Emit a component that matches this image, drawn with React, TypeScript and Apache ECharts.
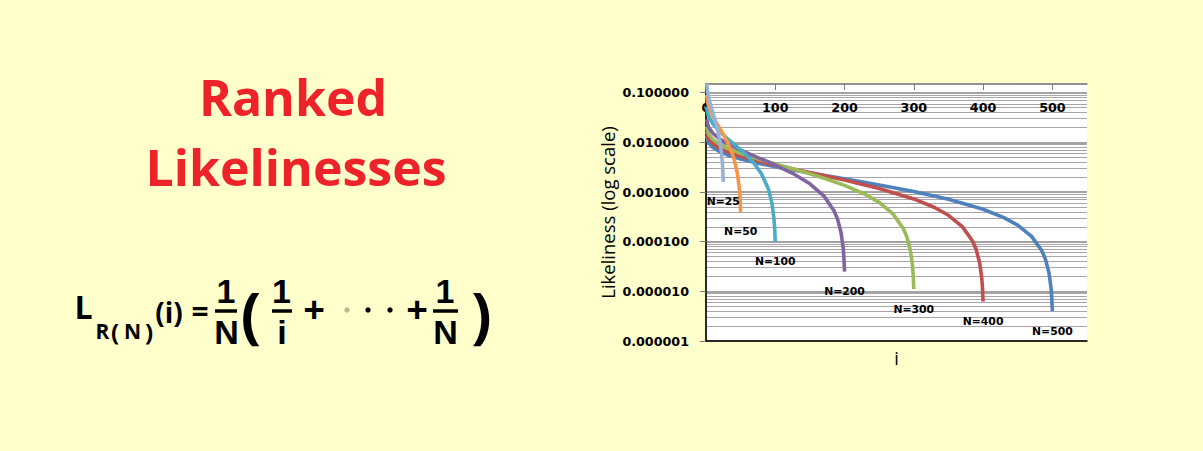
import React, { useEffect, useRef } from 'react';
import * as echarts from 'echarts';

// ---- data ----
const seriesNames = ['N=500', 'N=400', 'N=300', 'N=200', 'N=100', 'N=50', 'N=25'];
const seriesColors = ['#4F81BD', '#C0504D', '#9BBB59', '#8064A2', '#4BACC6', '#F79646', '#95B3D7'];

const xN25 = [1, 2, 3, 5, 8, 12, 16, 20, 22, 23, 24, 25];
const yN25 = [0.1526, 0.1126, 0.0926, 0.0693, 0.0489, 0.03184, 0.01991, 0.01073, 0.006824, 0.005006, 0.003267, 0.0016];

const xN50 = [1, 2, 3, 5, 10, 15, 20, 25, 30, 35, 40, 45, 48, 49, 50];
const yN50 = [0.08998, 0.06998, 0.05998, 0.04832, 0.0334, 0.02495, 0.01903, 0.01446, 0.01075, 0.00762, 0.004913, 0.00253, 0.001225, 0.000808, 0.0004];

const xN100 = [1, 2, 3, 5, 10, 20, 30, 40, 50, 60, 70, 80, 90, 95, 98, 99, 100];
const yN100 = [0.05187, 0.04187, 0.03687, 0.03104, 0.02358, 0.0164, 0.01226, 0.009338, 0.007082, 0.005242, 0.003688, 0.002344, 0.001159, 0.0006156, 0.000303, 0.000201, 0.0001];

const xN200 = [1, 2, 3, 5, 10, 20, 30, 50, 75, 100, 125, 150, 170, 185, 190, 195, 198, 199, 200];
const yN200 = [0.02939, 0.02439, 0.02189, 0.01897, 0.01525, 0.01165, 0.009582, 0.006994, 0.00495, 0.003503, 0.002383, 0.001468, 0.0008398, 0.0004158, 0.0002821, 0.0001519, 0.0000754, 0.0000501, 0.000025];

const xN300 = [1, 2, 3, 5, 10, 20, 30, 50, 75, 100, 125, 150, 175, 200, 230, 250, 270, 285, 290, 295, 298, 299, 300];
const yN300 = [0.02094, 0.01761, 0.01594, 0.014, 0.01151, 0.009116, 0.007737, 0.006012, 0.004649, 0.003684, 0.002937, 0.002327, 0.001812, 0.001365, 0.0008985, 0.00062, 0.0003629, 0.0001824, 0.0001243, 0.00006723, 0.00003345, 0.00002226, 0.00001111];

const xN400 = [1, 2, 3, 5, 10, 20, 30, 50, 75, 100, 150, 200, 250, 300, 330, 350, 370, 385, 390, 395, 398, 399, 400];
const yN400 = [0.01642, 0.01392, 0.01267, 0.01122, 0.009352, 0.007555, 0.006521, 0.005227, 0.004205, 0.003481, 0.002464, 0.001742, 0.001183, 0.0007265, 0.0004878, 0.0003405, 0.0002014, 0.0001019, 0.00006963, 0.00003774, 0.0000188, 0.00001252, 0.00000625];

const xN500 = [1, 2, 3, 5, 10, 20, 30, 50, 75, 100, 150, 200, 250, 300, 350, 400, 430, 450, 470, 485, 490, 495, 498, 499, 500];
const yN500 = [0.01359, 0.01159, 0.01059, 0.009419, 0.007928, 0.00649, 0.005662, 0.004627, 0.00381, 0.003231, 0.002417, 0.00184, 0.001392, 0.001027, 0.0007182, 0.0004508, 0.000306, 0.0002149, 0.0001279, 0.00006498, 0.00004445, 0.00002412, 0.00001202, 0.000008008, 0.000004];

const seriesX = [xN500, xN400, xN300, xN200, xN100, xN50, xN25];
const seriesY = [yN500, yN400, yN300, yN200, yN100, yN50, yN25];

const xMin = 0;
const xMax = 550;
const xInterval = 100;
const yMin = 0.000001;
const yMax = 0.15;

const BG = '#FFFFCC';

function txt(text: string, x: number, y: number, size: number, opts: any = {}) {
  return {
    type: 'text',
    x,
    y,
    silent: true,
    style: {
      text,
      fontSize: size,
      lineHeight: opts.lineHeight ?? size,
      fontWeight: opts.weight ?? 'bold',
      fontFamily: opts.family ?? 'Open Sans',
      fill: opts.fill ?? '#000',
      align: 'center',
      verticalAlign: 'middle',
    },
  };
}

function bar(x1: number, x2: number, y: number) {
  return {
    type: 'line',
    silent: true,
    shape: { x1, y1: y, x2, y2: y },
    style: { stroke: '#000', lineWidth: 3.5 },
  };
}

function dot(cx: number, cy: number, fill = '#000') {
  return { type: 'circle', silent: true, shape: { cx, cy, r: 2.7 }, style: { fill } };
}

export default function App() {
  const ref = useRef<HTMLDivElement>(null);

  useEffect(() => {
    if (!ref.current) return;
    const chart = echarts.init(ref.current, null, { renderer: 'svg' });
    const labelFont = { fontFamily: 'DejaVu Sans', fontWeight: 'bold', fontSize: 12.7, color: '#000' };

    const series = seriesNames.map((name, k) => {
      const xs = seriesX[k];
      const ys = seriesY[k];
      return {
        name,
        type: 'line',
        xAxisIndex: 0,
        yAxisIndex: 0,
        data: xs.map((x, i) => [x, ys[i]]),
        showSymbol: false,
        symbol: 'none',
        lineStyle: { color: seriesColors[k], width: 3.6 },
        itemStyle: { color: seriesColors[k] },
        markPoint: {
          symbol: 'circle',
          symbolSize: 1,
          silent: true,
          itemStyle: { color: 'rgba(0,0,0,0)' },
          label: {
            show: true,
            position: 'bottom',
            distance: 14,
            formatter: name,
            color: '#000',
            fontFamily: 'DejaVu Sans',
            fontWeight: 'bold',
            fontSize: 10.8,
          },
          data: [{ coord: [xs[xs.length - 1], ys[ys.length - 1]] }],
        },
      };
    });

    const frac = { lineHeight: 30, family: 'Liberation Sans' };
    const numY = 290.5;
    const denY = 331.5;
    const fracSize = 34;
    const graphic = [
      txt('Ranked', 293, 96.5, 50, { fill: '#EE2229' }),
      txt('Likelinesses', 296, 166.5, 50, { fill: '#EE2229' }),
      // formula
      txt('L', 83.5, 306, 32),
      txt('R', 102.5, 330.5, 21),
      txt('(', 115, 331.5, 24),
      txt('N', 132.5, 330.5, 21),
      txt(')', 149, 331.5, 24),
      txt('(i)', 169, 311.5, 28),
      txt('=', 200, 310, 30),
      txt('1', 226, numY, fracSize, frac),
      bar(215, 237, 311),
      txt('N', 226.5, denY, fracSize, frac),
      txt('(', 251, 314, 60),
      txt('1', 281.5, numY, fracSize, frac),
      bar(272, 292, 311),
      txt('i', 282, denY, fracSize, frac),
      txt('+', 314, 308, 38),
      dot(347, 310, '#b8b890'),
      dot(368, 310),
      dot(390, 310),
      txt('+', 417, 308, 38),
      txt('1', 445, numY, fracSize, frac),
      bar(433, 458, 311),
      txt('N', 445.5, denY, fracSize, frac),
      txt(')', 481.5, 314, 60),
    ];

    chart.setOption({
      animation: false,
      backgroundColor: BG,
      grid: {
        left: 706,
        top: 84,
        width: 381,
        height: 257,
        show: true,
        backgroundColor: '#ffffff',
        borderWidth: 0,
      },
      xAxis: [
        {
          type: 'value',
          position: 'top',
          min: xMin,
          max: xMax,
          interval: xInterval,
          axisLine: { show: true, onZero: false, lineStyle: { color: '#8c8c8c', width: 1.5 } },
          axisTick: { show: true, inside: true, length: 6, lineStyle: { color: '#7a7a7a' } },
          axisLabel: { inside: true, margin: 17, showMaxLabel: false, ...labelFont },
          splitLine: { show: false },
        },
        {
          type: 'value',
          position: 'bottom',
          min: xMin,
          max: xMax,
          axisLine: { show: true, onZero: false, lineStyle: { color: '#000', width: 1.5 } },
          axisTick: { show: false },
          axisLabel: { show: false },
          splitLine: { show: false },
          name: 'i',
          nameLocation: 'middle',
          nameGap: 8,
          nameTextStyle: { fontFamily: 'Open Sans', fontSize: 18, color: '#000' },
        },
      ],
      yAxis: [
        {
          type: 'log',
          logBase: 10,
          min: yMin,
          max: yMax,
          position: 'left',
          axisLine: { show: true, lineStyle: { color: '#8c8c8c', width: 1.5 } },
          axisTick: { show: true, length: 6, lineStyle: { color: '#7a7a7a' } },
          axisLabel: {
            margin: 17,
            showMaxLabel: false,
            formatter: (v: number) => Number(v).toFixed(6),
            ...labelFont,
          },
          splitLine: { show: true, lineStyle: { color: '#858585', width: 1.5 } },
          minorTick: { show: false, splitNumber: 9 },
          minorSplitLine: { show: true, lineStyle: { color: '#aaa3ab', width: 1 } },
          name: 'Likeliness (log scale)',
          nameLocation: 'middle',
          nameGap: 89,
          nameTextStyle: { fontFamily: 'Open Sans', fontSize: 18.5, color: '#000' },
        },
        {
          type: 'value',
          position: 'right',
          axisLine: { show: true, lineStyle: { color: '#000', width: 1.5 } },
          axisTick: { show: false },
          axisLabel: { show: false },
          splitLine: { show: false },
        },
      ],
      series,
      graphic,
    });

    return () => chart.dispose();
  }, []);

  return (
    <div
      ref={ref}
      style={{ position: 'fixed', left: 0, top: 0, width: 1203, height: 451, background: BG }}
    />
  );
}
